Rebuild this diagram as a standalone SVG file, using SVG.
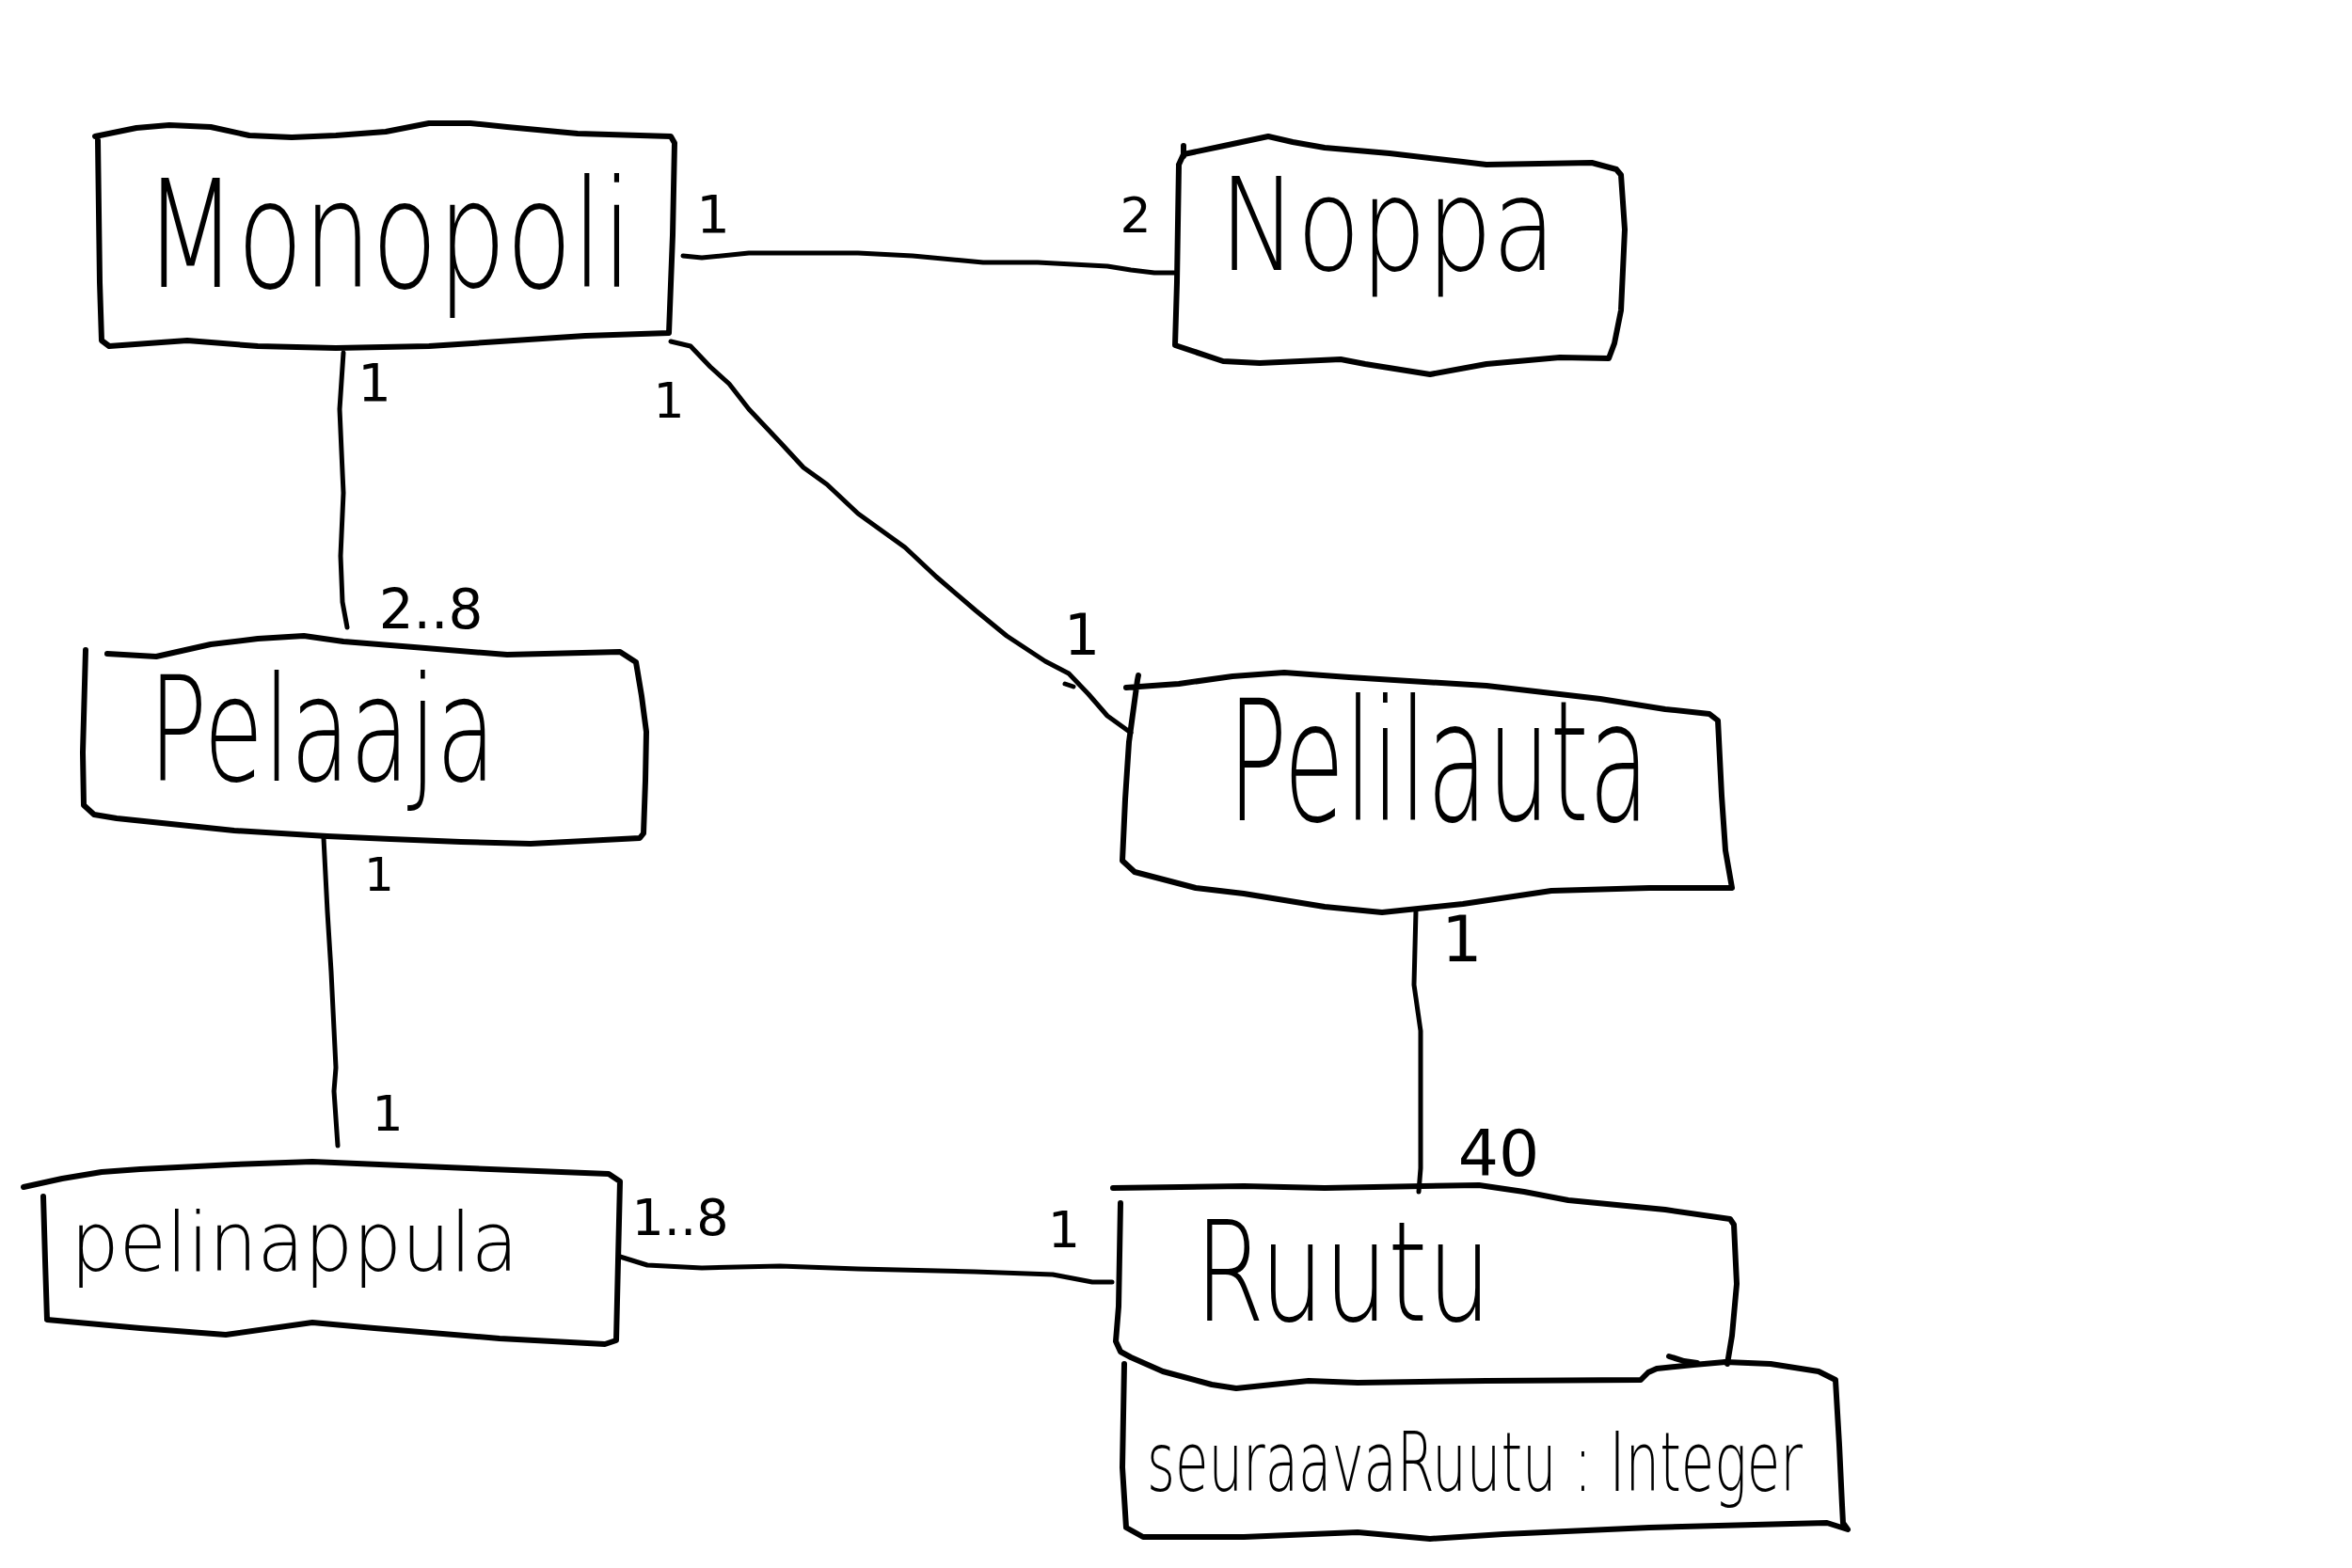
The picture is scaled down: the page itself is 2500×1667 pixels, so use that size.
<svg xmlns="http://www.w3.org/2000/svg" width="2500" height="1667" viewBox="0 0 2500 1667">
<style>
.box{fill:none;stroke:#000;stroke-width:6;stroke-linecap:round;stroke-linejoin:round}
.con{fill:none;stroke:#000;stroke-width:5;stroke-linecap:round;stroke-linejoin:round}
.name{font-family:"DejaVu Sans","Liberation Sans",sans-serif;font-weight:200;fill:#000}
.mult{font-family:"DejaVu Sans","Liberation Sans",sans-serif;font-weight:400;fill:#000;text-anchor:middle}
</style>
<rect width="2500" height="1667" fill="#fff"/>
<g id="connectors">
<path class="con" d="M726,272 L746,274 L796,269 L829,269 L912,269 L970,272 L1045,279 L1103,279 L1177,283 L1202,287 L1227,290 L1248,290"/>
<path class="con" d="M365,375 L361,435 L363,480 L365,524 L362,591 L364,640 L369,667"/>
<path class="con" d="M713,363 L734,368 L755,390 L775,408 L796,435 L829,470 L854,497 L879,515 L912,546 L962,582 L995,613 L1037,649 L1070,676 L1111,703 L1136,716 L1157,738 L1177,761 L1202,779"/>
<path class="con" d="M1132,727 L1141,730"/>
<path class="con" d="M344,891 L348,969 L352,1033 L357,1135 L355,1160 L359,1218"/>
<path class="con" d="M659,1336 L688,1345 L746,1348 L829,1346 L912,1349 L1036,1352 L1119,1355 L1161,1363 L1182,1363"/>
<path class="con" d="M1505,968 L1503,1047 L1510,1096 L1510,1242 L1508,1267"/>
<text class="mult" x="758" y="247" font-size="56">1</text>
<text class="mult" x="1207" y="247" font-size="52">2</text>
<text class="mult" x="398" y="426" font-size="56">1</text>
<text class="mult" x="711" y="444" font-size="52">1</text>
<text class="mult" x="458" y="668" font-size="58">2..8</text>
<text class="mult" x="1150" y="696" font-size="60">1</text>
<text class="mult" x="403" y="947" font-size="50">1</text>
<text class="mult" x="412" y="1202" font-size="52">1</text>
<text class="mult" x="723" y="1313" font-size="54">1..8</text>
<text class="mult" x="1131" y="1326" font-size="54">1</text>
<text class="mult" x="1554" y="1022" font-size="68">1</text>
<text class="mult" x="1593" y="1250" font-size="68">40</text>
</g>
<g id="monopoli">
<path class="box" d="M101,145 L145,136 L180,133 L224,135 L265,144 L310,146 L357,144 L410,140 L456,131 L500,131 L539,135 L614,142 L713,145 L717,152 L715,250 L711,354 L622,357 L531,363 L456,368 L357,370 L274,368 L199,362 L116,368 L108,362 L106,300 L104,149"/>
<text class="name" transform="translate(153,305) scale(1,1.45)" x="0" y="0" font-size="110" textLength="519" lengthAdjust="spacingAndGlyphs">Monopoli</text>
</g>
<g id="noppa">
<path class="box" d="M1253,175 L1258,164 L1301,155 L1348,145 L1374,151 L1408,157 L1477,163 L1555,172 L1580,175 L1692,173 L1718,180 L1723,186 L1727,244 L1723,330 L1716,365 L1710,381 L1658,380 L1580,387 L1520,398 L1451,387 L1425,382 L1339,386 L1300,384 L1249,367 L1251,300 L1253,175"/>
<path class="box" d="M1258,155 L1258,166"/>
<text class="name" x="1296" y="287" font-size="137" textLength="358" lengthAdjust="spacingAndGlyphs">Noppa</text>
</g>
<g id="pelaaja">
<path class="box" d="M114,695 L166,698 L224,685 L274,679 L323,676 L365,682 L440,688 L539,696 L659,693 L676,704 L682,740 L687,778 L686,830 L684,886 L680,891 L564,897 L490,895 L415,892 L348,889 L249,883 L124,870 L100,866 L89,856 L88,800 L91,691"/>
<text class="name" x="158" y="830" font-size="155" textLength="369" lengthAdjust="spacingAndGlyphs">Pelaaja</text>
</g>
<g id="pelilauta">
<path class="box" d="M1197,731 L1253,727 L1310,719 L1365,715 L1434,720 L1580,729 L1701,743 L1770,754 L1817,759 L1826,766 L1830,846 L1834,904 L1841,944 L1753,944 L1649,947 L1555,961 L1469,970 L1408,964 L1322,950 L1271,944 L1206,927 L1193,915 L1196,850 L1200,789 L1209,723 L1210,718"/>
<text class="name" x="1305" y="872" font-size="178" textLength="448" lengthAdjust="spacingAndGlyphs">Pelilauta</text>
</g>
<g id="pelinappula">
<path class="box" d="M25,1262 L66,1253 L108,1246 L149,1243 L249,1238 L332,1235 L498,1242 L647,1248 L659,1256 L657,1340 L655,1425 L643,1429 L531,1423 L398,1412 L332,1406 L240,1419 L149,1412 L50,1403 L48,1340 L46,1272"/>
<text class="name" x="75" y="1351" font-size="88" textLength="476" lengthAdjust="spacingAndGlyphs">pelinappula</text>
</g>
<g id="ruutu">
<path class="box" d="M1183,1263 L1322,1261 L1408,1263 L1512,1261 L1572,1260 L1620,1267 L1667,1276 L1770,1286 L1839,1296 L1843,1302 L1846,1365 L1841,1420 L1836,1450"/>
<path class="box" d="M1191,1279 L1189,1389 L1186,1426 L1191,1437 L1202,1443 L1236,1458 L1288,1472 L1314,1476 L1391,1468 L1443,1470 L1580,1468 L1744,1467 L1752,1459 L1761,1455 L1800,1451 L1834,1448"/>
<path class="box" d="M1774,1442 L1790,1447 L1804,1449"/>
<text class="name" x="1270" y="1404" font-size="148" textLength="315" lengthAdjust="spacingAndGlyphs">Ruutu</text>
</g>
<g id="ruutu-attributes">
<path class="box" d="M1834,1448 L1882,1450 L1933,1458 L1951,1467 L1955,1536 L1958,1600 L1959,1619 L1964,1626 L1942,1619 L1753,1624 L1598,1631 L1520,1636 L1443,1629 L1322,1634 L1215,1634 L1197,1624 L1193,1560 L1195,1450"/>
<text class="name" x="1219" y="1585" font-size="88" textLength="697" lengthAdjust="spacingAndGlyphs">seuraavaRuutu : Integer</text>
</g>
</svg>
